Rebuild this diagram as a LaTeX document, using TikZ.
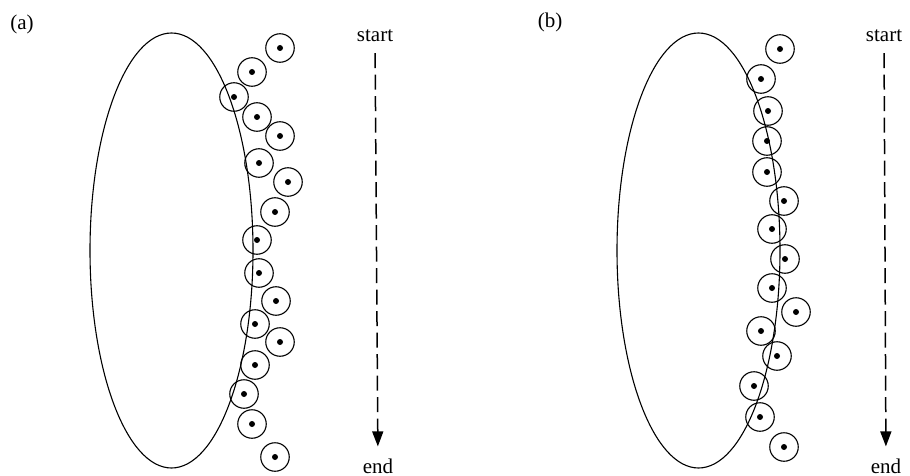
\documentclass[tikz,border=0pt]{standalone}
\usepackage{fontspec}
\setmainfont{Liberation Serif}
\usetikzlibrary{arrows.meta}
\begin{document}
\begin{tikzpicture}[x=1pt,y=-1pt,
  ion/.style={circle,draw,line width=1.1pt,minimum size=28.5pt,inner sep=0pt,
    path picture={\fill (path picture bounding box.center) circle (3pt);}},
  lbl/.style={inner sep=0pt,font=\fontsize{21}{21}\selectfont},
  flow/.style={line width=1.5pt,dash pattern=on 15pt off 6.5pt,
    -{Triangle[length=15pt,width=11pt]}},
  cell/.style={line width=1.1pt}]
\useasboundingbox (0,0) rectangle (910,476);
% panel labels
\node[lbl] (la) at (22,24) {(a)};
\node[lbl] (lb) at (550,22) {(b)};
% ellipses
\draw[cell] (171.5,250.5) ellipse (81.5 and 217.5);
\draw[cell] (698.5,250.5) ellipse (81.5 and 217.5);
% panel (a) particles
\foreach \i/\x/\y in {1/280/48,2/252/72,3/234/97,4/257/117,5/280/136,6/259/163,
  7/288/182,8/275/212,9/257/240,10/259/273,11/276/301,12/255/324,13/280/342,
  14/255/365,15/244/394,16/252/424,17/275/457}
  \node[ion] (a\i) at (\x,\y) {};
% panel (b) particles
\foreach \i/\x/\y in {1/780/49,2/761/79,3/768/111,4/767/141,5/767/172,6/784/201,
  7/772/229,8/785/259,9/772/288,10/796/312,11/761/331,12/777/356,13/754/386,
  14/760/417,15/784/447}
  \node[ion] (b\i) at (\x,\y) {};
% arrows
\node[lbl] (sa) at (375,36) {start};
\node[lbl] (ea) at (378,466) {end};
\draw[flow] (sa) -- (ea) [shorten <=11pt, shorten >=12pt];
\node[lbl] (sb) at (884,36) {start};
\node[lbl] (eb) at (886,466) {end};
\draw[flow] (sb) -- (eb) [shorten <=11pt, shorten >=12pt];
\end{tikzpicture}
\end{document}
